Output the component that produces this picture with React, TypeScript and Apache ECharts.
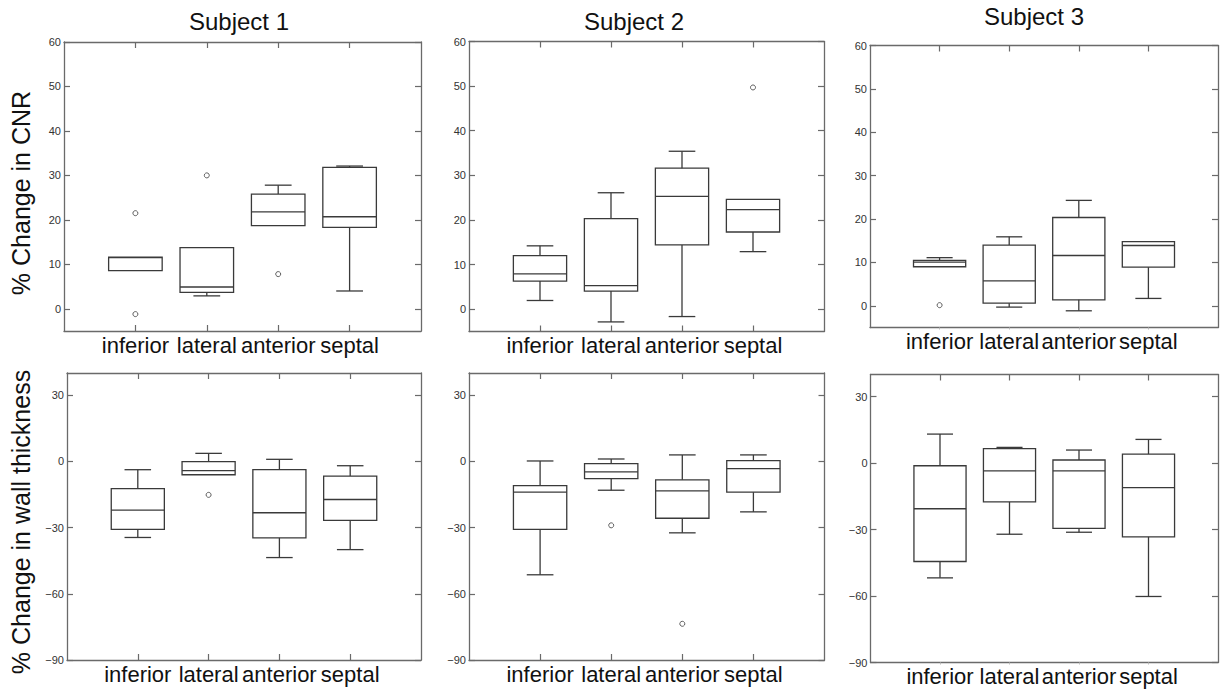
import React, { useEffect, useRef } from 'react';
import * as echarts from 'echarts';

const categories = ['inferior', 'lateral', 'anterior', 'septal'];
const subjects = ['Subject 1', 'Subject 2', 'Subject 3'];
const rowNames = ['% Change in CNR', '% Change in wall thickness'];
const cnrTicks = [0, 10, 20, 30, 40, 50, 60];
const wallTicks = [-90, -60, -30, 0, 30];

// each box: [min, q1, median, q3, max]; outliers: [category position, value]
const cnrS1 = [[8.6, 8.6, 11.5, 11.6, 11.6], [2.9, 3.7, 4.9, 13.75, 13.75], [18.7, 18.7, 21.8, 25.8, 27.8], [4.0, 18.3, 20.7, 31.8, 32.1]];
const cnrS1Out = [[1, 21.5], [1, -1.2], [2, 30.0], [3, 7.8]];
const cnrS2 = [[1.95, 6.3, 7.9, 12.0, 14.2], [-2.85, 4.05, 5.3, 20.3, 26.1], [-1.65, 14.4, 25.3, 31.6, 35.4], [12.9, 17.3, 22.3, 24.6, 24.6]];
const cnrS2Out = [[4, 49.7]];
const cnrS3 = [[9.0, 9.0, 10.06, 10.45, 11.1], [-0.3, 0.6, 5.76, 14.0, 15.9], [-1.15, 1.38, 11.6, 20.35, 24.3], [1.7, 8.9, 13.9, 14.8, 14.8]];
const cnrS3Out = [[1, 0.15]];
const wallS1 = [[-34.5, -30.8, -22.1, -12.4, -3.8], [-6.1, -6.1, -4.2, -0.15, 3.6], [-43.6, -34.7, -23.3, -3.8, 0.9], [-40.0, -26.8, -17.3, -6.7, -2.0]];
const wallS1Out = [[2, -15.2]];
const wallS2 = [[-51.4, -30.8, -14.0, -11.0, 0.15], [-13.1, -7.8, -4.8, -1.05, 1.05], [-32.4, -25.8, -13.4, -8.4, 2.9], [-22.9, -14.0, -3.3, 0.3, 2.9]];
const wallS2Out = [[2, -29.0], [3, -73.6]];
const wallS3 = [[-51.8, -44.4, -20.6, -1.2, 13.1], [-32.1, -17.5, -3.5, 6.5, 7.1], [-31.2, -29.5, -3.5, 1.4, 5.9], [-60.2, -33.3, -11.1, 4.1, 10.7]];
const wallS3Out: number[][] = [];

const FONT = 'Liberation Sans, Arial, sans-serif';

const panels = [
  { box: cnrS1, out: cnrS1Out, row: 0 },
  { box: cnrS2, out: cnrS2Out, row: 0 },
  { box: cnrS3, out: cnrS3Out, row: 0 },
  { box: wallS1, out: wallS1Out, row: 1 },
  { box: wallS2, out: wallS2Out, row: 1 },
  { box: wallS3, out: wallS3Out, row: 1 },
];

const gridLayout = [
  { left: 64, top: 42, width: 357, height: 289 },
  { left: 469, top: 41.5, width: 355, height: 290 },
  { left: 870, top: 45.5, width: 348, height: 282 },
  { left: 67, top: 373, width: 354, height: 287 },
  { left: 469, top: 373, width: 355.5, height: 287 },
  { left: 870.5, top: 374.5, width: 347.5, height: 288 },
];

const LINE = '#3a3a3a';
const BORDER = '#6a6a6a';

function buildOption() {
  const grid: any[] = [];
  const xAxis: any[] = [];
  const yAxis: any[] = [];
  const series: any[] = [];
  panels.forEach((p, g) => {
    grid.push({ ...gridLayout[g], containLabel: false });
    const isThird = g % 3 === 2;
    const xBase = {
      gridIndex: g,
      type: 'value',
      min: 0,
      max: 5,
      splitLine: { show: false },
      axisLine: { onZero: false, lineStyle: { color: BORDER, width: 1.3 } },
    };
    xAxis.push({
      ...xBase,
      position: 'bottom',
      axisTick: isThird
        ? { inside: false, length: 2, customValues: [1, 2, 3, 4], lineStyle: { color: '#bbb' } }
        : { inside: true, length: 6, customValues: [1, 2, 3, 4], lineStyle: { color: BORDER, width: 1.2 } },
      axisLabel: {
        customValues: [1, 2, 3, 4],
        formatter: (v: number) => categories[Math.round(v) - 1] || '',
        fontFamily: FONT,
        fontSize: 22,
        color: '#111',
        margin: 3,
      },
    });
    xAxis.push({
      ...xBase,
      position: 'top',
      axisTick: { inside: true, length: 6, customValues: [1, 2, 3, 4], lineStyle: { color: BORDER, width: 1.2 } },
      axisLabel: { show: false },
    });
    const ticks = p.row === 0 ? cnrTicks : wallTicks;
    const yBase = {
      gridIndex: g,
      type: 'value',
      min: p.row === 0 ? -5 : -90,
      max: p.row === 0 ? 60 : 40,
      splitLine: { show: false },
      axisLine: { show: true, onZero: false, lineStyle: { color: BORDER, width: 1.3 } },
      axisTick: { show: true, inside: true, length: 6, customValues: ticks, lineStyle: { color: BORDER, width: 1.2 } },
    };
    yAxis.push({
      ...yBase,
      position: 'left',
      axisLabel: {
        customValues: ticks,
        formatter: (v: number) => (v < 0 ? '\u2212' + Math.abs(v) : String(v)),
        fontFamily: FONT,
        fontSize: 11,
        color: '#333',
        margin: 3,
      },
    });
    yAxis.push({ ...yBase, position: 'right', axisLabel: { show: false } });

    series.push({
      type: 'custom',
      xAxisIndex: 2 * g,
      yAxisIndex: 2 * g,
      data: p.box.map((b, i) => [i + 1, ...b]),
      dimensions: ['x', 'min', 'q1', 'med', 'q3', 'max'],
      encode: { x: 0, y: [1, 2, 3, 4, 5] },
      renderItem: (params: any, api: any) => {
        const x = api.value(0);
        const lo = api.coord([x, api.value(1)]);
        const q1 = api.coord([x, api.value(2)]);
        const med = api.coord([x, api.value(3)]);
        const q3 = api.coord([x, api.value(4)]);
        const hi = api.coord([x, api.value(5)]);
        const band = api.size([1, 0])[0];
        const bw = band * 0.75;
        const cw = bw * 0.5;
        const cx = q1[0];
        const st = { stroke: LINE, lineWidth: 1.3, fill: 'none' };
        const children: any[] = [
          { type: 'rect', shape: { x: cx - bw / 2, y: q3[1], width: bw, height: q1[1] - q3[1] }, style: st },
          { type: 'line', shape: { x1: cx - bw / 2, y1: med[1], x2: cx + bw / 2, y2: med[1] }, style: st },
        ];
        if (hi[1] < q3[1] - 0.5) {
          children.push({ type: 'line', shape: { x1: cx, y1: q3[1], x2: cx, y2: hi[1] }, style: st });
          children.push({ type: 'line', shape: { x1: cx - cw / 2, y1: hi[1], x2: cx + cw / 2, y2: hi[1] }, style: st });
        }
        if (lo[1] > q1[1] + 0.5) {
          children.push({ type: 'line', shape: { x1: cx, y1: q1[1], x2: cx, y2: lo[1] }, style: st });
          children.push({ type: 'line', shape: { x1: cx - cw / 2, y1: lo[1], x2: cx + cw / 2, y2: lo[1] }, style: st });
        }
        return { type: 'group', children };
      },
    });
    series.push({
      type: 'scatter',
      xAxisIndex: 2 * g,
      yAxisIndex: 2 * g,
      data: p.out,
      symbol: 'circle',
      symbolSize: 5,
      itemStyle: { color: '#fff', borderColor: LINE, borderWidth: 1 },
    });
  });

  const titleX = [239, 634, 1034];
  const titleY = [21, 21, 16];
  const graphic: any[] = subjects.map((s, i) => ({
    type: 'text',
    x: titleX[i],
    y: titleY[i],
    style: { text: s, fontFamily: FONT, fontSize: 24, fill: '#111', align: 'center', verticalAlign: 'middle' },
  }));
  const nameY = [193, 522];
  rowNames.forEach((n, i) => {
    graphic.push({
      type: 'text',
      x: 21,
      y: nameY[i],
      rotation: Math.PI / 2,
      style: { text: n, fontFamily: FONT, fontSize: 25, fill: '#111', align: 'center', verticalAlign: 'middle' },
    });
  });

  return {
    animation: false,
    backgroundColor: '#fff',
    grid,
    xAxis,
    yAxis,
    series,
    graphic,
  };
}

export default function App() {
  const ref = useRef<HTMLDivElement>(null);
  useEffect(() => {
    if (!ref.current) return;
    const chart = echarts.init(ref.current, null, { renderer: 'svg' });
    chart.setOption(buildOption() as any);
    return () => chart.dispose();
  }, []);
  return <div ref={ref} style={{ position: 'absolute', left: 0, top: 0, width: 1220, height: 693 }} />;
}
